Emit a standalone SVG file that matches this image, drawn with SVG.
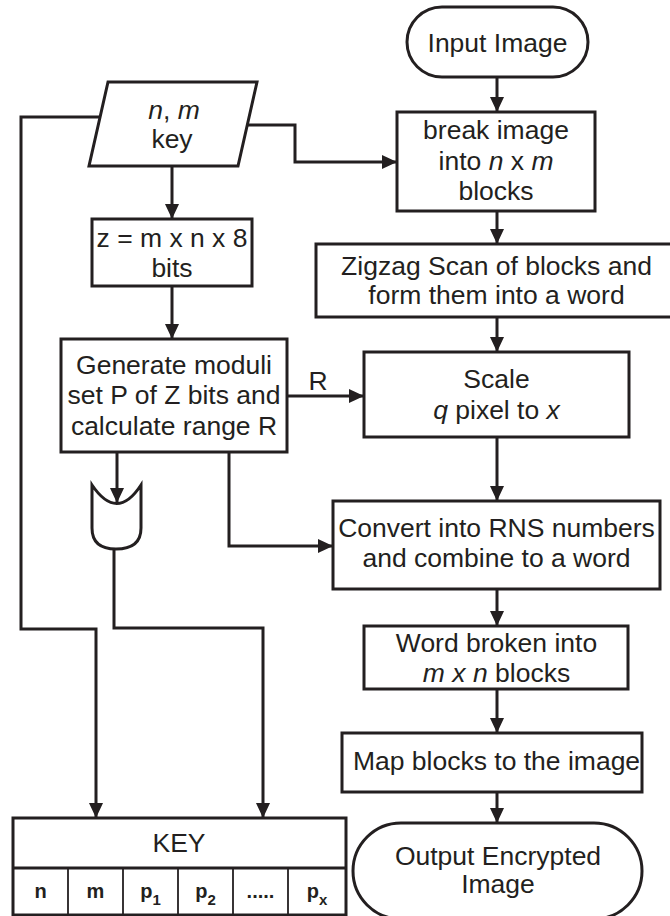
<svg xmlns="http://www.w3.org/2000/svg" width="670" height="916" viewBox="0 0 670 916">
<style>
.s{fill:#fff;stroke:#231f20;stroke-width:3}
.c{fill:none;stroke:#231f20;stroke-width:3}
.t{font-family:"Liberation Sans",Arial,sans-serif;font-size:26.5px;fill:#231f20;text-anchor:middle}
.i{font-style:italic}
.k{font-family:"Liberation Sans",Arial,sans-serif;font-size:20px;font-weight:bold;fill:#231f20;text-anchor:middle}
.sub{font-size:15px}
.thin{fill:none;stroke:#231f20;stroke-width:1.8}
</style>
<defs>
<marker id="ah" markerWidth="15" markerHeight="14" refX="15" refY="7" orient="auto" markerUnits="userSpaceOnUse">
<path d="M0,0 L15,7 L0,14 Z" fill="#231f20"/>
</marker>
</defs>
<g id="connectors">
<line class="c" x1="497" y1="77" x2="497" y2="112" marker-end="url(#ah)"/>
<line class="c" x1="497" y1="211" x2="497" y2="244" marker-end="url(#ah)"/>
<line class="c" x1="497" y1="317" x2="497" y2="352" marker-end="url(#ah)"/>
<line class="c" x1="497" y1="437" x2="497" y2="501" marker-end="url(#ah)"/>
<line class="c" x1="497" y1="589" x2="497" y2="626" marker-end="url(#ah)"/>
<line class="c" x1="497" y1="689" x2="497" y2="733" marker-end="url(#ah)"/>
<line class="c" x1="497" y1="792" x2="497" y2="823" marker-end="url(#ah)"/>
<polyline class="c" points="247,125 295,125 295,162 397,162" marker-end="url(#ah)"/>
<line class="c" x1="172" y1="166" x2="172" y2="219" marker-end="url(#ah)"/>
<line class="c" x1="172" y1="286" x2="172" y2="339" marker-end="url(#ah)"/>
<line class="c" x1="287" y1="396" x2="364" y2="396" marker-end="url(#ah)"/>
<text class="t" x="318" y="390">R</text>
<polyline class="c" points="229,452 229,546 333,546" marker-end="url(#ah)"/>
<polyline class="c" points="100,117 21,117 21,629 96,629 96,818" marker-end="url(#ah)"/>
<polyline class="c" points="114,548 114,628 263,628 263,818" marker-end="url(#ah)"/>
</g>
<g id="input">
<rect class="s" x="407" y="7" width="181" height="70" rx="35" ry="35"/>
<text class="t" x="497.5" y="52">Input Image</text>
</g>
<g id="nmkey">
<polygon class="s" points="108,82 257,82 238,166 89,166"/>
<text class="t" x="174" y="119"><tspan class="i">n</tspan>, <tspan class="i">m</tspan></text>
<text class="t" x="172" y="148">key</text>
</g>
<g id="break">
<rect class="s" x="397" y="112" width="198" height="99"/>
<text class="t" x="496" y="139">break image</text>
<text class="t" x="496" y="170">into <tspan class="i">n</tspan> x <tspan class="i">m</tspan></text>
<text class="t" x="496" y="200">blocks</text>
</g>
<g id="zbits">
<rect class="s" x="92" y="219" width="160" height="67"/>
<text class="t" x="172" y="247">z = m x n x 8</text>
<text class="t" x="172" y="277">bits</text>
</g>
<g id="zigzag">
<rect class="s" x="316" y="244" width="362" height="73"/>
<text class="t" x="496.5" y="275">Zigzag Scan of blocks and</text>
<text class="t" x="496.5" y="304">form them into a word</text>
</g>
<g id="generate">
<rect class="s" x="61" y="339" width="226" height="113"/>
<text class="t" x="174" y="374">Generate moduli</text>
<text class="t" x="174" y="404">set P of Z bits and</text>
<text class="t" x="174" y="435">calculate range R</text>
</g>
<g id="scale">
<rect class="s" x="364" y="352" width="265" height="85"/>
<text class="t" x="496.5" y="388">Scale</text>
<text class="t" x="496.5" y="419"><tspan class="i">q</tspan> pixel to <tspan class="i">x</tspan></text>
</g>
<g id="gate">
<path class="c" d="M92,485 Q117,522 141,485 L141,528 Q141,549 116,549 Q92,549 92,528 Z" fill="#fff"/>
<line class="c" x1="117" y1="452" x2="117" y2="503" marker-end="url(#ah)"/>
</g>
<g id="convert">
<rect class="s" x="333" y="501" width="327" height="88"/>
<text class="t" x="496.5" y="537">Convert into RNS numbers</text>
<text class="t" x="496.5" y="567">and combine to a word</text>
</g>
<g id="word">
<rect class="s" x="364" y="626" width="264" height="63"/>
<text class="t" x="496.5" y="652">Word broken into</text>
<text class="t" x="496.5" y="682"><tspan class="i">m x n</tspan> blocks</text>
</g>
<g id="map">
<rect class="s" x="342" y="733" width="300" height="59"/>
<text class="t" x="496.5" y="770">Map blocks to the image</text>
</g>
<g id="output">
<rect class="s" x="353" y="823" width="289" height="96" rx="48" ry="48"/>
<text class="t" x="498" y="865">Output Encrypted</text>
<text class="t" x="498" y="893">Image</text>
</g>
<g id="keybox">
<rect class="s" x="13" y="818" width="333" height="97"/>
<line class="c" x1="13" y1="868" x2="346" y2="868"/>
<line class="thin" x1="68" y1="868" x2="68" y2="915"/>
<line class="thin" x1="123" y1="868" x2="123" y2="915"/>
<line class="thin" x1="178" y1="868" x2="178" y2="915"/>
<line class="thin" x1="233" y1="868" x2="233" y2="915"/>
<line class="thin" x1="288" y1="868" x2="288" y2="915"/>
<text class="t" x="179" y="852">KEY</text>
<text class="k" x="40.5" y="898">n</text>
<text class="k" x="95.5" y="898">m</text>
<text class="k" x="150.5" y="898">p<tspan class="sub" dy="7">1</tspan></text>
<text class="k" x="205.5" y="898">p<tspan class="sub" dy="7">2</tspan></text>
<text class="k" x="260.5" y="898">.....</text>
<text class="k" x="317" y="898">p<tspan class="sub" dy="7">x</tspan></text>
</g>
</svg>
